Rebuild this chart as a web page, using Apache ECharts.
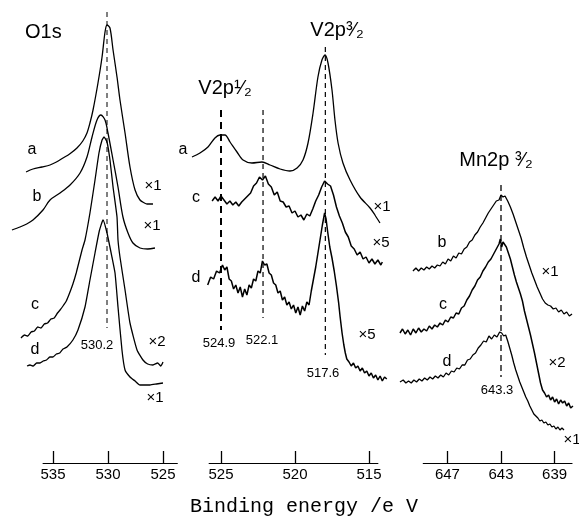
<!DOCTYPE html>
<html><head><meta charset="utf-8">
<script src="https://cdn.jsdelivr.net/npm/echarts@6/dist/echarts.min.js"></script>
<style>html,body{margin:0;padding:0;background:#fff}#c{width:579px;height:521px}</style>
</head><body><div id="c"></div>
<script>
// ---- tick labels (binding energy, eV) ----
const o1sTicks = [535, 530, 525];
const v2pTicks = [525, 520, 515];
const mnTicks = [647, 643, 639];

// ---- spectra: [binding energy eV, intensity (arb., offset)] ----
const o1s_a = [[537.36,291],[536.73,294],[535.9,296],[535.18,298],[534.6,301],[534.0,305],[533.4,309],[532.73,315],[532.2,322],[531.82,330],[531.55,340],[531.27,353],[530.82,380],[530.45,406],[530.18,431],[530.0,438],[529.73,435],[529.45,413],[529.09,386],[528.82,363],[528.36,330],[527.91,296],[527.45,273],[527.0,263],[526.6,260],[526.36,259],[525.82,259]];
const o1s_b = [[538.64,233],[537.91,236],[537.3,239],[536.73,243],[535.82,253],[535.18,263],[534.27,270],[533.36,278],[532.45,290],[531.82,306],[531.36,326],[530.91,343],[530.55,348],[530.18,343],[529.91,330],[529.45,303],[529.0,276],[528.55,246],[528.09,230],[527.64,220],[527.0,215],[526.3,214],[525.64,215]];
const o1s_c = [[537.82,125],[537.5,128],[537.2,127],[536.9,131],[536.6,132],[536.3,136],[536.0,135],[535.7,139],[535.4,140],[535.1,144],[534.8,145],[534.5,150],[534.27,153],[534.0,157],[533.7,162],[533.4,170],[533.1,179],[532.8,190],[532.27,213],[532.0,223],[531.55,250],[531.09,283],[530.73,310],[530.45,323],[530.27,326],[530.0,321],[529.73,303],[529.45,276],[529.09,246],[529.0,223],[528.82,206],[528.36,173],[527.91,140],[527.27,113],[526.73,103],[526.3,99],[525.82,98],[525.4,100],[525.1,97],[524.91,101]];
const o1s_d = [[537.27,97],[537.0,98],[536.7,97],[536.4,100],[536.09,100],[535.8,102],[535.5,103],[535.2,106],[534.91,106],[534.6,109],[534.3,110],[534.0,114],[533.64,116],[533.1,123],[532.64,133],[532.0,156],[531.55,183],[531.09,210],[530.7,232],[530.36,243],[530.0,230],[529.55,206],[529.27,190],[529.0,156],[528.64,113],[528.36,93],[527.91,86],[527.45,82],[527.0,78],[526.09,78],[525.5,79],[524.91,80]];

const v2p_a = [[526.96,306],[526.42,310],[525.88,316],[525.41,325],[525.07,328],[524.73,328],[524.39,321],[523.92,311],[523.51,303],[522.91,300],[522.23,301],[521.69,298],[521.01,294],[520.34,292],[519.86,295],[519.46,303],[519.12,320],[518.78,350],[518.45,386],[518.18,403],[517.97,408],[517.77,400],[517.5,373],[517.3,343],[517.09,320],[516.76,300],[516.28,283],[515.61,266],[514.93,255],[514.6,248],[514.26,240]];
const v2p_c = [[525.6,262],[525.4,266],[525.2,262],[525.0,267],[524.8,263],[524.6,259],[524.4,262],[524.2,258],[524.0,261],[523.8,257],[523.6,261],[523.4,264],[523.2,267],[523.0,270],[522.8,277],[522.6,280],[522.4,286],[522.2,283],[522.0,287],[521.8,279],[521.6,276],[521.4,268],[521.2,271],[521.0,262],[520.8,261],[520.6,256],[520.4,257],[520.2,250],[520.0,252],[519.8,246],[519.6,248],[519.4,243],[519.2,249],[519.0,247],[518.8,254],[518.6,262],[518.4,268],[518.2,276],[518.0,282],[517.8,279],[517.6,277],[517.4,268],[517.2,256],[517.0,247],[516.8,240],[516.6,231],[516.4,226],[516.2,217],[516.0,214],[515.8,208],[515.6,211],[515.4,204],[515.2,206],[515.0,200],[514.8,204],[514.6,199],[514.4,203],[514.2,198],[514.1,201]];
const v2p_d = [[525.9,178],[525.7,186],[525.5,184],[525.3,192],[525.1,190],[524.9,198],[524.75,193],[524.6,196],[524.45,184],[524.3,182],[524.15,174],[524.0,178],[523.85,170],[523.7,176],[523.55,166],[523.4,174],[523.25,168],[523.1,178],[522.95,175],[522.8,184],[522.65,182],[522.5,192],[522.35,190],[522.2,202],[522.05,198],[521.9,199],[521.75,190],[521.6,188],[521.45,180],[521.3,178],[521.15,170],[521.0,172],[520.85,163],[520.7,166],[520.55,158],[520.4,161],[520.25,154],[520.1,158],[519.95,150],[519.8,156],[519.65,148],[519.5,157],[519.35,152],[519.2,161],[519.05,158],[518.9,172],[518.75,184],[518.6,196],[518.45,210],[518.3,224],[518.15,238],[518.0,250],[517.9,244],[517.8,232],[517.65,216],[517.5,205],[517.35,192],[517.2,177],[517.05,160],[516.95,146],[516.82,130],[516.7,118],[516.6,110],[516.5,104],[516.35,101],[516.2,97],[516.05,100],[515.9,95],[515.75,97],[515.6,92],[515.45,95],[515.3,90],[515.15,92],[515.0,87],[514.85,90],[514.7,85],[514.55,88],[514.4,83],[514.25,87],[514.1,82],[513.95,86],[513.8,84]];

const mn_b = [[649.57,192],[649.35,195],[649.15,192],[648.95,195],[648.75,193],[648.55,196],[648.35,194],[648.15,197],[647.95,195],[647.75,198],[647.55,197],[647.35,201],[647.15,199],[646.95,204],[646.75,202],[646.55,207],[646.35,205],[646.15,210],[645.95,209],[645.75,214],[645.55,216],[645.35,221],[645.15,223],[644.95,228],[644.75,231],[644.55,236],[644.35,240],[644.15,245],[643.95,250],[643.75,254],[643.55,258],[643.35,262],[643.15,263],[643.0,268],[642.85,266],[642.7,267],[642.5,262],[642.3,256],[642.1,249],[641.9,241],[641.7,233],[641.5,225],[641.3,215],[641.1,206],[640.9,198],[640.7,190],[640.5,183],[640.3,176],[640.1,170],[639.9,164],[639.7,160],[639.5,158],[639.3,157],[639.1,154],[638.9,155],[638.7,151],[638.5,153],[638.3,149],[638.1,151],[637.9,147],[637.7,149]];
const mn_c = [[650.54,130],[650.35,134],[650.15,129],[649.95,133],[649.75,128],[649.55,134],[649.35,130],[649.15,135],[648.95,131],[648.75,134],[648.55,132],[648.35,137],[648.15,134],[647.95,138],[647.75,136],[647.55,140],[647.35,138],[647.15,143],[646.95,141],[646.75,146],[646.55,145],[646.35,150],[646.15,149],[645.95,155],[645.75,157],[645.55,163],[645.35,167],[645.15,173],[644.95,177],[644.75,183],[644.55,186],[644.35,192],[644.15,196],[643.95,201],[643.75,204],[643.55,209],[643.35,214],[643.15,219],[643.05,224],[642.95,216],[642.85,221],[642.75,223],[642.6,216],[642.45,210],[642.3,204],[642.15,196],[642.0,188],[641.85,181],[641.7,175],[641.55,169],[641.4,162],[641.25,152],[641.1,144],[640.95,136],[640.8,128],[640.65,119],[640.5,110],[640.35,100],[640.2,90],[640.05,80],[639.9,73],[639.75,70],[639.6,66],[639.45,68],[639.3,63],[639.15,66],[639.0,61],[638.85,64],[638.7,59],[638.55,63],[638.4,60],[638.25,62],[638.1,57],[637.95,60],[637.8,55],[637.63,57]];
const mn_d = [[650.54,81],[650.3,83],[650.1,80],[649.9,82],[649.7,80],[649.5,83],[649.3,81],[649.1,84],[648.9,82],[648.7,85],[648.5,83],[648.3,86],[648.1,84],[647.9,87],[647.7,85],[647.5,88],[647.3,86],[647.1,90],[646.9,88],[646.7,92],[646.5,91],[646.3,95],[646.1,94],[645.9,98],[645.7,98],[645.5,103],[645.3,104],[645.1,108],[644.9,110],[644.7,115],[644.5,118],[644.3,122],[644.1,121],[643.9,127],[643.7,124],[643.5,128],[643.3,126],[643.1,131],[642.95,130],[642.8,127],[642.65,128],[642.5,122],[642.35,115],[642.2,108],[642.05,100],[641.9,93],[641.75,87],[641.6,81],[641.45,76],[641.3,71],[641.15,66],[641.0,62],[640.85,57],[640.7,53],[640.55,49],[640.4,47],[640.25,45],[640.1,42],[639.95,43],[639.8,40],[639.65,41],[639.5,38],[639.35,39],[639.2,36],[639.05,37],[638.9,34],[638.75,36],[638.6,33],[638.45,35],[638.3,33]];

// ---- reference (dashed) peak markers: [energy, from intensity, to intensity] ----
const o1sMark = [530.0, 451, 135];
const v2pMarks = [[525.0, 353, 133], [522.16, 353, 145], [517.95, 416, 108]];
const mnMark = [643.0, 278, 86];

const chart = echarts.init(document.getElementById('c'), null, {renderer: 'canvas'});
const FONT = "'Liberation Sans', 'DejaVu Sans', Arial, sans-serif";

function grid(left, width) {
  return {left: left, width: width, top: 0, height: 463, containLabel: false, outerBoundsMode: 'none', show: false};
}
function hiddenX(gi, min, max) {
  return {type: 'value', gridIndex: gi, min: min, max: max, inverse: true, show: false};
}
function visX(gi, min, max, ticks) {
  return {type: 'value', gridIndex: gi, min: min, max: max, inverse: true,
    axisLine: {show: true, onZero: false, lineStyle: {color: '#000', width: 1.2}},
    axisTick: {show: true, inside: true, length: 12, customValues: ticks, lineStyle: {color: '#000', width: 1.3}},
    axisLabel: {show: true, customValues: ticks, color: '#000', fontSize: 15, fontFamily: FONT, margin: 4},
    splitLine: {show: false}};
}
function hiddenY(gi) {
  return {type: 'value', gridIndex: gi, min: 0, max: 463, show: false};
}
function spec(xi, data, smooth, w) {
  return {type: 'line', xAxisIndex: xi, yAxisIndex: xi, data: data, showSymbol: false, smooth: smooth,
    lineStyle: {color: '#000', width: w || 1.3}, silent: true, animation: false};
}
function mark(xi, m, w, dash) {
  return {type: 'line', xAxisIndex: xi, yAxisIndex: xi, data: [[m[0], m[1]], [m[0], m[2]]], showSymbol: false,
    lineStyle: {color: '#000', width: w, type: dash}, silent: true, animation: false, z: 1};
}
function txt(x, y, t, size, fam, align) {
  return {type: 'text', x: x, y: y, silent: true,
    style: {text: t, fontSize: size, fontFamily: fam || FONT, fill: '#000',
      textAlign: align || 'center', textVerticalAlign: 'middle', align: align || 'center', verticalAlign: 'middle'}};
}

const option = {
  backgroundColor: '#fff',
  animation: false,
  grid: [grid(8, 187), grid(191.4, 207.2), grid(399.16, 175.54), grid(43.1, 134.2), grid(209.16, 168.72), grid(423.28, 148.74)],
  xAxis: [hiddenX(0, 522, 539), hiddenX(1, 513, 527), hiddenX(2, 637.5, 650.6),
          visX(3, 523.7, 535.9, o1sTicks), visX(4, 514.4, 525.8, v2pTicks), visX(5, 637.7, 648.8, mnTicks)],
  yAxis: [hiddenY(0), hiddenY(1), hiddenY(2), hiddenY(3), hiddenY(4), hiddenY(5)],
  series: [
    mark(0, o1sMark, 1, [5, 4]),
    spec(0, o1s_a, 0.3), spec(0, o1s_b, 0.3), spec(0, o1s_c, 0.15), spec(0, o1s_d, 0.15),
    mark(1, v2pMarks[0], 2, [7, 5]), mark(1, v2pMarks[1], 1.2, [5, 4]), mark(1, v2pMarks[2], 1.2, [5, 4]),
    spec(1, v2p_a, 0.3), spec(1, v2p_c, false, 1.5), spec(1, v2p_d, false, 1.5),
    mark(2, mnMark, 1.3, [6, 4]),
    spec(2, mn_b, false, 1.3), spec(2, mn_c, false, 1.5), spec(2, mn_d, false, 1.3),
    {type: 'line', xAxisIndex: 3, yAxisIndex: 3, data: [], silent: true},
    {type: 'line', xAxisIndex: 4, yAxisIndex: 4, data: [], silent: true},
    {type: 'line', xAxisIndex: 5, yAxisIndex: 5, data: [], silent: true}
  ],
  graphic: [
    txt(25, 32, 'O1s', 20, null, 'left'),
    txt(32, 150, 'a', 16), txt(37, 197, 'b', 16), txt(35, 305, 'c', 16), txt(35, 350, 'd', 16),
    txt(153, 186, '×1', 15), txt(152, 226, '×1', 15), txt(157, 342, '×2', 15), txt(155, 398, '×1', 15),
    txt(97, 345, '530.2', 13),
    txt(225, 88, 'V2p\u00B9\u2044\u2082', 20), txt(337, 30, 'V2p\u00B3\u2044\u2082', 20),
    txt(183, 150, 'a', 16), txt(196, 198, 'c', 16), txt(196, 278, 'd', 16),
    txt(382, 207, '×1', 15), txt(381, 243, '×5', 15), txt(367, 335, '×5', 15),
    txt(219, 343, '524.9', 13), txt(262, 340, '522.1', 13), txt(323, 373, '517.6', 13),
    txt(496, 160, 'Mn2p \u00B3\u2044\u2082', 20),
    txt(442, 243, 'b', 16), txt(443, 305, 'c', 16), txt(447, 362, 'd', 16),
    txt(550, 272, '×1', 15), txt(557, 363, '×2', 15), txt(572, 440, '×1', 15),
    txt(497, 390, '643.3', 13),
    txt(304, 507, 'Binding energy /e V', 20, "'Liberation Mono', 'DejaVu Sans Mono', monospace")
  ]
};
chart.setOption(option);
</script></body></html>
